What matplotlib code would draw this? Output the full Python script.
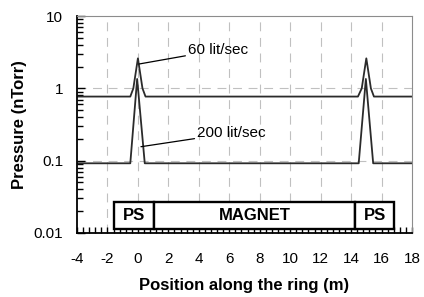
import matplotlib
matplotlib.use("Agg")
import matplotlib.pyplot as plt
from matplotlib.patches import Rectangle
from matplotlib.ticker import MultipleLocator, LogLocator, NullFormatter, FixedLocator

plt.rcParams['font.family'] = ['Liberation Sans', 'DejaVu Sans']
plt.rcParams['axes.unicode_minus'] = False

# pressure profile, 60 lit/sec pumping
pos_60 = [-4, -0.5, -0.3, 0, 0.3, 0.5, 14.45, 14.7, 15, 15.3, 15.5, 18]
p_60 = [0.77, 0.77, 1.0, 2.6, 1.0, 0.77, 0.77, 1.0, 2.6, 1.0, 0.77, 0.77]

# pressure profile, 200 lit/sec pumping
pos_200 = [-4, -0.5, -0.05, 0.45, 14.5, 14.97, 15.45, 18]
p_200 = [0.092, 0.092, 1.35, 0.092, 0.092, 1.35, 0.092, 0.092]

# lattice elements drawn as boxes along the bottom
elem_start = [-1.6, 1.05, 14.25]
elem_end = [1.05, 14.25, 16.85]
elem_label = ['PS', 'MAGNET', 'PS']
elem_lo, elem_hi = 0.0115, 0.027

xticks = list(range(-4, 19, 2))
yticks = [0.01, 0.1, 1, 10]
ytick_labels = ['0.01', '0.1', '1', '10']

fig = plt.figure(figsize=(4.24, 2.97), dpi=100)
ax = fig.add_axes([0.1816, 0.2155, 0.7901, 0.7305])

ax.set_yscale('log')
ax.set_xlim(-4, 18)
ax.set_ylim(0.01, 10)

# grid
for x in xticks[1:-1]:
    ax.axvline(x, color='#c0c0c0', lw=0.8, ls=(0, (8, 6)), zorder=0)
for y in [1, 0.1]:
    ax.axhline(y, color='#c0c0c0', lw=0.8, ls=(0, (8, 6)), zorder=0)

ax.plot(pos_60, p_60, color='#2b2b2b', lw=1.3)
ax.plot(pos_200, p_200, color='#2b2b2b', lw=1.3)

ax.annotate('60 lit/sec', xy=(0.07, 2.17), xytext=(3.3, 3.39),
            fontsize=11, ha='left', va='center',
            arrowprops=dict(arrowstyle='-', color='black', lw=0.9, shrinkA=0, shrinkB=0))
ax.annotate('200 lit/sec', xy=(0.2, 0.156), xytext=(3.9, 0.241),
            fontsize=11, ha='left', va='center',
            arrowprops=dict(arrowstyle='-', color='black', lw=0.9, shrinkA=0, shrinkB=0))

for s, e, lab in zip(elem_start, elem_end, elem_label):
    ax.add_patch(Rectangle((s, elem_lo), e - s, elem_hi - elem_lo,
                           facecolor='white', edgecolor='black', lw=1.7, zorder=3))
    ax.text((s + e) / 2, (elem_lo * elem_hi) ** 0.5, lab, ha='center', va='center',
            fontsize=12, fontweight='bold', zorder=4)

ax.xaxis.set_major_locator(FixedLocator(xticks))
ax.xaxis.set_minor_locator(MultipleLocator(0.4))
ax.set_yticks(yticks)
ax.set_yticklabels(ytick_labels)
ax.yaxis.set_minor_locator(LogLocator(base=10, subs=range(2, 10)))
ax.yaxis.set_minor_formatter(NullFormatter())

ax.tick_params(axis='x', which='major', direction='in', length=4, width=1, pad=14, labelsize=11)
ax.tick_params(axis='x', which='minor', direction='in', length=4, width=1)
ax.tick_params(axis='y', which='major', direction='in', length=6, width=1, pad=10, labelsize=11)
ax.tick_params(axis='y', which='minor', direction='in', length=4, width=1)

for side in ['left', 'bottom']:
    ax.spines[side].set_color('black')
    ax.spines[side].set_linewidth(1.3)
for side in ['top', 'right']:
    ax.spines[side].set_color('#8c8c8c')
    ax.spines[side].set_linewidth(0.8)

ax.set_xlabel('Position along the ring (m)', fontsize=12, fontweight='bold', labelpad=8)
ax.set_ylabel('Pressure (nTorr)', fontsize=12, fontweight='bold', labelpad=5)

fig.savefig('out.png', dpi=100)
